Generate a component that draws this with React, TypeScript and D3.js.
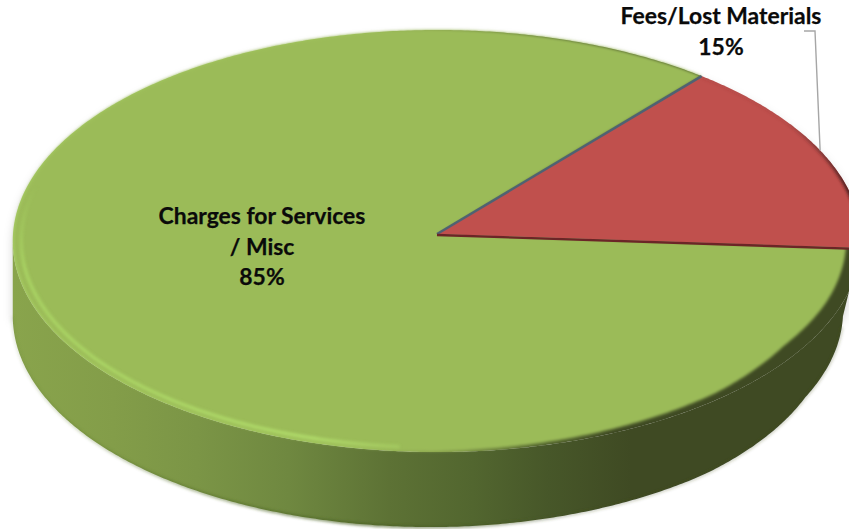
import React from "react";
import * as d3 from "d3";

const sliceNames = ["Fees/Lost Materials", "Charges for Services / Misc"];
const sliceValues = [15, 85];
const sliceColors = ["#c0504d", "#9bbb59"];

const WIDTH = 849;
const HEIGHT = 529;
const FIRST_ANGLE = (39.8 * Math.PI) / 180;

// Disc geometry: a perspective-projected circle with a bottom face below it.
const CX = 437;
const CY = 234;
const RX = 424;
const RY = 210.8;
const PERSPECTIVE = 0.0333;
const DEPTH = 75;

const deg = (a: number) => (a * Math.PI) / 180;

function project(theta: number, r = 1, level = 0): [number, number] {
  const u = Math.sin(theta) * r;
  const v = -Math.cos(theta) * r;
  const w = 1 - PERSPECTIVE * v;
  const cx = CX - 6 * level;
  const rx = RX - 6 * level;
  return [cx + (rx * u) / w, CY + DEPTH * level + (RY * v) / w];
}

// Bevelled inner edge of the top face, as a fraction of the radius per angle.
const insetScale = d3
  .scaleLinear<number>()
  .domain([0, 40, 90, 110, 123, 139, 150, 180, 270, 330, 360])
  .range([1, 1, 0.965, 0.963, 0.958, 0.976, 0.98, 0.995, 0.997, 1, 1])
  .clamp(true);

// The lower edge of the wall pulls in slightly on the near right.
const lowerEdgeScale = d3
  .scaleLinear<number>()
  .domain([92, 115, 140, 175])
  .range([0.985, 0.975, 0.995, 1])
  .clamp(true);

const norm = (t: number) => {
  const two = Math.PI * 2;
  return (((t % two) + two) % two) * (180 / Math.PI);
};

const line = d3.line<[number, number]>();

function sweep(a0: number, a1: number, rad: (t: number) => number, level = 0) {
  const n = Math.max(2, Math.ceil(Math.abs(a1 - a0) / deg(0.5)));
  return d3.range(n + 1).map((i) => {
    const t = a0 + ((a1 - a0) * i) / n;
    return project(t, rad(t), level);
  });
}

const pie = d3
  .pie<number>()
  .sort(null)
  .startAngle(FIRST_ANGLE)
  .endAngle(FIRST_ANGLE + Math.PI * 2);

const arcs = pie(sliceValues);
const centre: [number, number] = [CX, CY];

const slicePath = (a0: number, a1: number, rad: (t: number) => number) =>
  (line([centre, ...sweep(a0, a1, rad)]) as string) + "Z";

const full = () => 1;
const inset = (t: number) => insetScale(norm(t));
const lower = (t: number) => lowerEdgeScale(norm(t));

// The wall runs between the two silhouette tangent points of the ellipses.
const WALL_FROM = deg(92);
const WALL_TO = deg(268);
const sidePath =
  (line([...sweep(WALL_FROM, WALL_TO, full, 0), ...sweep(WALL_TO, WALL_FROM, lower, 1)]) as string) + "Z";

const silhouette =
  (line([...sweep(0, Math.PI * 2, full, 0)]) as string) +
  "Z" +
  (line([...sweep(WALL_FROM, WALL_TO, lower, 1)]) as string) +
  "Z" +
  sidePath;

const sideStops: [number, string][] = [
  [0, "#89a44c"],
  [0.12, "#839d49"],
  [0.22, "#7b9546"],
  [0.33, "#6f8840"],
  [0.45, "#5d7235"],
  [0.55, "#52662f"],
  [0.64, "#475729"],
  [0.74, "#3f4a23"],
  [1, "#3f4a23"],
];

const bevelStops: [number, string][] = [
  [0, "#a6cc62"],
  [0.4, "#a2c75e"],
  [0.5, "#8da650"],
  [0.62, "#55672f"],
  [0.72, "#3f4a23"],
  [1, "#3f4a23"],
];

const feesCut = arcs[0];
const chargesCut = arcs[1];

export default function App() {
  return (
    <svg
      width={WIDTH}
      height={HEIGHT}
      viewBox={`0 0 ${WIDTH} ${HEIGHT}`}
      style={{ position: "absolute", left: 0, top: 0, display: "block", background: "#fff" }}
    >
      <defs>
        <linearGradient id="side" gradientUnits="userSpaceOnUse" x1={13} x2={849} y1={0} y2={0}>
          {sideStops.map(([o, c]) => (
            <stop key={o} offset={o} stopColor={c} />
          ))}
        </linearGradient>
        <linearGradient id="bevel" gradientUnits="userSpaceOnUse" x1={13} x2={849} y1={0} y2={0}>
          {bevelStops.map(([o, c]) => (
            <stop key={o} offset={o} stopColor={c} />
          ))}
        </linearGradient>
        <linearGradient id="shine" gradientUnits="userSpaceOnUse" x1={13} x2={470} y1={0} y2={0}>
          <stop offset={0} stopColor="#aad564" stopOpacity={0.9} />
          <stop offset={0.65} stopColor="#b0db6a" stopOpacity={1} />
          <stop offset={1} stopColor="#b0db6a" stopOpacity={0} />
        </linearGradient>
        <linearGradient id="shineFade" gradientUnits="userSpaceOnUse" x1={0} x2={0} y1={185} y2={270}>
          <stop offset={0} stopColor="#000" />
          <stop offset={1} stopColor="#fff" />
        </linearGradient>
        <mask id="shineMask" maskUnits="userSpaceOnUse" x={0} y={0} width={WIDTH} height={HEIGHT}>
          <rect x={0} y={0} width={WIDTH} height={HEIGHT} fill="url(#shineFade)" />
        </mask>
        <linearGradient id="redRim" gradientUnits="userSpaceOnUse" x1={785} x2={850} y1={0} y2={0}>
          <stop offset={0} stopColor="#6b2b2a" stopOpacity={0.12} />
          <stop offset={1} stopColor="#4d1f1f" stopOpacity={1} />
        </linearGradient>
        <linearGradient id="bottomEdge" gradientUnits="userSpaceOnUse" x1={13} x2={700} y1={0} y2={0}>
          <stop offset={0} stopColor="#5f7a30" stopOpacity={0.2} />
          <stop offset={0.5} stopColor="#4a6122" stopOpacity={0.9} />
          <stop offset={0.85} stopColor="#3f4a23" stopOpacity={0.3} />
        </linearGradient>
        <filter id="soft6" x="-5%" y="-5%" width="110%" height="110%">
          <feGaussianBlur stdDeviation={5} />
        </filter>
        <filter id="soft1" x="-5%" y="-5%" width="110%" height="110%">
          <feGaussianBlur stdDeviation={1.4} />
        </filter>
        <filter id="soft2" x="-5%" y="-5%" width="110%" height="110%">
          <feGaussianBlur stdDeviation={1.5} />
        </filter>
        <clipPath id="redClip">
          <path d={slicePath(feesCut.startAngle, feesCut.endAngle, full)} />
        </clipPath>
      </defs>

      {/* Drop shadow under the disc */}
      <path
        d={silhouette}
        fill="#000"
        fillOpacity={0.17}
        filter="url(#soft6)"
        transform="translate(0,5)"
      />

      {/* Rim of the disc */}
      <path d={sidePath} fill="url(#side)" />
      <path
        d={line(sweep(deg(95), deg(268), lower, 1)) as string}
        fill="none"
        stroke="url(#bottomEdge)"
        strokeWidth={2.5}
        filter="url(#soft1)"
      />

      {/* Large slice: bevel ring, then the inner face */}
      <path d={slicePath(chargesCut.startAngle, chargesCut.endAngle, full)} fill="url(#bevel)" />
      <path
        d={slicePath(chargesCut.startAngle, chargesCut.endAngle, inset)}
        fill={sliceColors[1]}
        filter="url(#soft1)"
      />
      <g mask="url(#shineMask)">
        <path
          d={line(sweep(deg(185), deg(285), () => 0.98)) as string}
          fill="none"
          stroke="url(#shine)"
          strokeWidth={3.4}
          filter="url(#soft2)"
        />
      </g>

      {/* Small slice with its shaded outer edge and the two cut lines */}
      <path d={slicePath(feesCut.startAngle, feesCut.endAngle, full)} fill={sliceColors[0]} />
      <g clipPath="url(#redClip)">
        <path
          d={line(sweep(feesCut.startAngle, feesCut.endAngle, full)) as string}
          fill="none"
          stroke="url(#redRim)"
          strokeWidth={5}
          filter="url(#soft1)"
        />
      </g>
      <path
        d={line([centre, project(feesCut.startAngle)]) as string}
        fill="none"
        stroke="#4f6272"
        strokeWidth={2.5}
      />
      <path
        d={line([centre, project(feesCut.endAngle)]) as string}
        fill="none"
        stroke="#6b2527"
        strokeWidth={2.4}
        transform="translate(0,1)"
      />

      {/* Leader for the small slice */}
      <path
        d={line([[804, 31], [815, 31], project(deg(66.3))]) as string}
        fill="none"
        stroke="#a6a6a6"
        strokeWidth={1.4}
      />

      {/* Data labels */}
      <g
        fontFamily="Lato, 'Open Sans', sans-serif"
        fontWeight={700}
        fontSize={22.9}
        fill="#0a0a0a"
        stroke="#0a0a0a"
        strokeWidth={0.25}
        textAnchor="middle"
      >
        <text x={721} y={24}>{sliceNames[0]}</text>
        <text x={721} y={55}>{`${sliceValues[0]}%`}</text>
        <text x={262} y={224}>Charges for Services</text>
        <text x={262} y={255}>/ Misc</text>
        <text x={262} y={285}>{`${sliceValues[1]}%`}</text>
      </g>
    </svg>
  );
}
